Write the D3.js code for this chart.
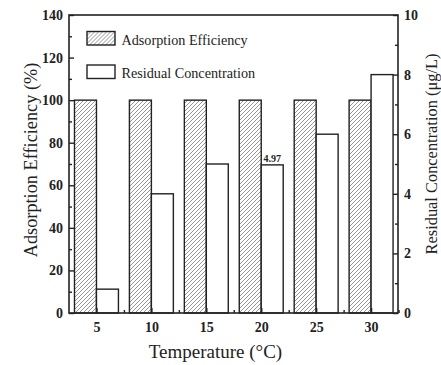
<!DOCTYPE html>
<html><head><meta charset="utf-8">
<script src="https://cdn.jsdelivr.net/npm/d3@7"></script>
<style>body{margin:0;background:#fff}svg{display:block}</style>
</head><body>
<script>
const temperatures = [5, 10, 15, 20, 25, 30];
const adsorptionEfficiency = [100, 100, 100, 100, 100, 100];
const residualConcentration = [0.8, 4.0, 5.0, 4.97, 6.0, 8.0];
const leftTicks = [0, 20, 40, 60, 80, 100, 120, 140];
const rightTicks = [0, 2, 4, 6, 8, 10];
const seriesNames = ["Adsorption Efficiency", "Residual Concentration"];
const annotationIndex = 3;
const annotationText = "4.97";

const W = 441, H = 365;
const m = {l: 69, r: 43, t: 15, b: 52};
const FF = "Liberation Serif";
const ink = "#222";
const svg = d3.select("body").append("svg").attr("width", W).attr("height", H)
  .attr("font-family", FF);
const pat = svg.append("defs").append("pattern").attr("id", "hatch").attr("patternUnits", "userSpaceOnUse")
  .attr("width", 4).attr("height", 4);
pat.append("path").attr("d", "M-1,1 l2,-2 M0,4 l4,-4 M3,5 l2,-2")
  .attr("stroke", "#8a8a8a").attr("stroke-width", 0.9);

const x = d3.scaleLinear().domain([2.5, 32.45]).range([m.l, W - m.r]);
const yL = d3.scaleLinear().domain([0, 140]).range([H - m.b, m.t]);
const yR = d3.scaleLinear().domain([0, 10]).range([H - m.b, m.t]);
const bw = x(7) - x(5);

svg.append("g").selectAll("rect").data(temperatures).join("rect")
  .attr("x", d => x(d) - bw).attr("width", bw)
  .attr("y", (d, i) => yL(adsorptionEfficiency[i]))
  .attr("height", (d, i) => yL(0) - yL(adsorptionEfficiency[i]))
  .attr("fill", "url(#hatch)").attr("stroke", ink).attr("stroke-width", 1.4);
svg.append("g").selectAll("rect").data(temperatures).join("rect")
  .attr("x", d => x(d)).attr("width", bw)
  .attr("y", (d, i) => yR(residualConcentration[i]))
  .attr("height", (d, i) => yR(0) - yR(residualConcentration[i]))
  .attr("fill", "#fff").attr("stroke", ink).attr("stroke-width", 1.4);

svg.append("text").attr("x", x(temperatures[annotationIndex]) + bw / 2)
  .attr("y", yR(residualConcentration[annotationIndex]) - 3)
  .attr("text-anchor", "middle").attr("font-family", FF).attr("font-size", 10)
  .attr("font-weight", "bold").attr("fill", ink).text(annotationText);

function styleAxis(g) {
  g.attr("font-family", FF).attr("font-size", 14).attr("font-weight", "bold");
  g.select(".domain").remove();
  g.selectAll("line").attr("stroke", ink).attr("stroke-width", 1.4);
  g.selectAll("text").attr("fill", ink);
}
svg.append("g").attr("transform", `translate(0,${H - m.b})`)
  .call(d3.axisBottom(x).tickValues(temperatures).tickFormat(d3.format("d")).tickSizeInner(-5).tickSizeOuter(0).tickPadding(9))
  .call(styleAxis);
svg.append("g").attr("transform", `translate(0,${H - m.b})`)
  .call(d3.axisBottom(x).tickValues(temperatures.map(d => d + 2.5)).tickFormat("").tickSizeInner(-3).tickSizeOuter(0)).call(styleAxis);
svg.append("g").attr("transform", `translate(${m.l},0)`)
  .call(d3.axisLeft(yL).tickValues(leftTicks).tickSizeInner(-5).tickSizeOuter(0).tickPadding(6))
  .call(styleAxis);
svg.append("g").attr("transform", `translate(${m.l},0)`)
  .call(d3.axisLeft(yL).tickValues(leftTicks.slice(0, -1).map(d => d + 10)).tickFormat("").tickSizeInner(-3).tickSizeOuter(0)).call(styleAxis);
svg.append("g").attr("transform", `translate(${W - m.r},0)`)
  .call(d3.axisRight(yR).tickValues(rightTicks).tickSizeInner(-5).tickSizeOuter(0).tickPadding(6))
  .call(styleAxis);
svg.append("g").attr("transform", `translate(${W - m.r},0)`)
  .call(d3.axisRight(yR).tickValues(rightTicks.slice(0, -1).map(d => d + 1)).tickFormat("").tickSizeInner(-3).tickSizeOuter(0)).call(styleAxis);

svg.append("rect").attr("x", m.l).attr("y", m.t).attr("width", W - m.l - m.r).attr("height", H - m.t - m.b)
  .attr("fill", "none").attr("stroke", ink).attr("stroke-width", 1.6);

svg.append("text").attr("x", 215.5).attr("y", 358).attr("text-anchor", "middle")
  .attr("font-family", FF).attr("font-size", 19).attr("fill", ink).text("Temperature (°C)");
svg.append("text").attr("transform", "translate(37,160) rotate(-90)")
  .attr("text-anchor", "middle")
  .attr("font-family", FF).attr("font-size", 18.3).attr("fill", ink).text("Adsorption Efficiency (%)");
svg.append("text").attr("transform", "translate(436.5,154) rotate(-90)")
  .attr("text-anchor", "middle")
  .attr("font-family", FF).attr("font-size", 16.4).attr("fill", ink).text("Residual Concentration (μg/L)");

const lg = svg.append("g").attr("transform", "translate(87,31.5)");
seriesNames.forEach((name, i) => {
  const g = lg.append("g").attr("transform", `translate(0,${i * 33.5})`);
  g.append("rect").attr("width", 28).attr("height", 13.5)
    .attr("fill", i === 0 ? "url(#hatch)" : "#fff").attr("stroke", ink).attr("stroke-width", 1.4);
  g.append("text").attr("x", 34.5).attr("y", 13)
    .attr("font-family", FF).attr("font-size", 14.2).attr("fill", ink).text(name);
});
</script>
</body></html>
